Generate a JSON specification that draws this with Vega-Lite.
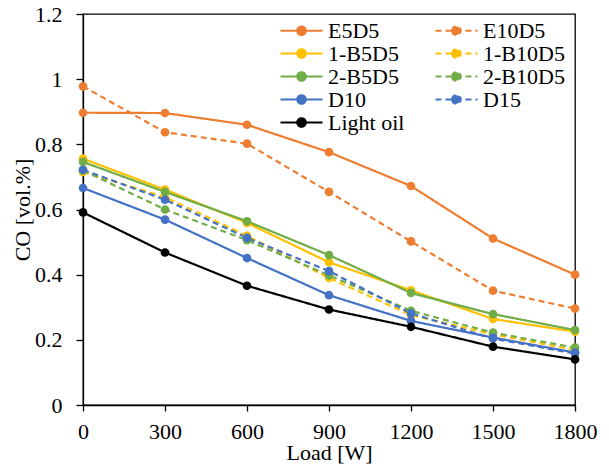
{
  "$schema": "https://vega.github.io/schema/vega-lite/v6.json",
  "width": 492,
  "height": 391,
  "autosize": {"type": "none"},
  "padding": {"left": 83, "top": 14, "right": 34, "bottom": 61},
  "background": "white",
  "config": {
    "view": {"stroke": "black", "strokeWidth": 1.3},
    "font": "Liberation Serif",
    "text": {"font": "Liberation Serif"},
    "legend": {"labelFont": "Liberation Serif", "titleFont": "Liberation Serif"},
    "axis": {"grid": false, "domainColor": "black", "tickColor": "black", "labelColor": "black", "titleColor": "black", "labelFont": "Liberation Serif", "titleFont": "Liberation Serif", "labelFontSize": 22, "titleFontSize": 22, "titleFontWeight": "normal", "domainWidth": 1.3, "tickWidth": 1.3}
  },
  "data": {"values": [
    {"load": 0, "co": 0.897, "series": "E5D5"},
    {"load": 300, "co": 0.896, "series": "E5D5"},
    {"load": 600, "co": 0.86, "series": "E5D5"},
    {"load": 900, "co": 0.776, "series": "E5D5"},
    {"load": 1200, "co": 0.672, "series": "E5D5"},
    {"load": 1500, "co": 0.511, "series": "E5D5"},
    {"load": 1800, "co": 0.4, "series": "E5D5"},
    {"load": 0, "co": 0.978, "series": "E10D5"},
    {"load": 300, "co": 0.837, "series": "E10D5"},
    {"load": 600, "co": 0.802, "series": "E10D5"},
    {"load": 900, "co": 0.654, "series": "E10D5"},
    {"load": 1200, "co": 0.502, "series": "E10D5"},
    {"load": 1500, "co": 0.351, "series": "E10D5"},
    {"load": 1800, "co": 0.296, "series": "E10D5"},
    {"load": 0, "co": 0.756, "series": "1-B5D5"},
    {"load": 300, "co": 0.661, "series": "1-B5D5"},
    {"load": 600, "co": 0.559, "series": "1-B5D5"},
    {"load": 900, "co": 0.438, "series": "1-B5D5"},
    {"load": 1200, "co": 0.352, "series": "1-B5D5"},
    {"load": 1500, "co": 0.264, "series": "1-B5D5"},
    {"load": 1800, "co": 0.225, "series": "1-B5D5"},
    {"load": 0, "co": 0.715, "series": "1-B10D5"},
    {"load": 300, "co": 0.638, "series": "1-B10D5"},
    {"load": 600, "co": 0.519, "series": "1-B10D5"},
    {"load": 900, "co": 0.39, "series": "1-B10D5"},
    {"load": 1200, "co": 0.276, "series": "1-B10D5"},
    {"load": 1500, "co": 0.217, "series": "1-B10D5"},
    {"load": 1800, "co": 0.169, "series": "1-B10D5"},
    {"load": 0, "co": 0.746, "series": "2-B5D5"},
    {"load": 300, "co": 0.654, "series": "2-B5D5"},
    {"load": 600, "co": 0.564, "series": "2-B5D5"},
    {"load": 900, "co": 0.46, "series": "2-B5D5"},
    {"load": 1200, "co": 0.344, "series": "2-B5D5"},
    {"load": 1500, "co": 0.279, "series": "2-B5D5"},
    {"load": 1800, "co": 0.23, "series": "2-B5D5"},
    {"load": 0, "co": 0.72, "series": "2-B10D5"},
    {"load": 300, "co": 0.6, "series": "2-B10D5"},
    {"load": 600, "co": 0.506, "series": "2-B10D5"},
    {"load": 900, "co": 0.398, "series": "2-B10D5"},
    {"load": 1200, "co": 0.289, "series": "2-B10D5"},
    {"load": 1500, "co": 0.222, "series": "2-B10D5"},
    {"load": 1800, "co": 0.176, "series": "2-B10D5"},
    {"load": 0, "co": 0.666, "series": "D10"},
    {"load": 300, "co": 0.569, "series": "D10"},
    {"load": 600, "co": 0.451, "series": "D10"},
    {"load": 900, "co": 0.337, "series": "D10"},
    {"load": 1200, "co": 0.258, "series": "D10"},
    {"load": 1500, "co": 0.207, "series": "D10"},
    {"load": 1800, "co": 0.161, "series": "D10"},
    {"load": 0, "co": 0.722, "series": "D15"},
    {"load": 300, "co": 0.63, "series": "D15"},
    {"load": 600, "co": 0.513, "series": "D15"},
    {"load": 900, "co": 0.411, "series": "D15"},
    {"load": 1200, "co": 0.281, "series": "D15"},
    {"load": 1500, "co": 0.204, "series": "D15"},
    {"load": 1800, "co": 0.158, "series": "D15"},
    {"load": 0, "co": 0.591, "series": "Light oil"},
    {"load": 300, "co": 0.468, "series": "Light oil"},
    {"load": 600, "co": 0.366, "series": "Light oil"},
    {"load": 900, "co": 0.293, "series": "Light oil"},
    {"load": 1200, "co": 0.24, "series": "Light oil"},
    {"load": 1500, "co": 0.179, "series": "Light oil"},
    {"load": 1800, "co": 0.14, "series": "Light oil"}
  ]},
  "mark": {"type": "line", "strokeWidth": 2.2, "point": {"filled": true, "size": 75, "opacity": 1}},
  "encoding": {
    "x": {"field": "load", "type": "quantitative", "scale": {"domain": [0, 1800], "nice": false}, "axis": {"values": [0, 300, 600, 900, 1200, 1500, 1800], "format": "d", "title": "Load [W]", "tickSize": 6, "labelPadding": 10, "titlePadding": 0, "labelFlush": false}},
    "y": {"field": "co", "type": "quantitative", "scale": {"domain": [0, 1.2], "nice": false}, "axis": {"values": [0, 0.2, 0.4, 0.6, 0.8, 1, 1.2], "format": "~g", "title": "CO [vol.%]", "tickSize": 7, "labelPadding": 14, "titlePadding": 0}},
    "color": {"field": "series", "type": "nominal", "sort": null,
      "scale": {"domain": ["E5D5", "1-B5D5", "2-B5D5", "D10", "Light oil", "E10D5", "1-B10D5", "2-B10D5", "D15"],
                "range": ["#ED7D31", "#FFC000", "#70AD47", "#4472C4", "#000000", "#ED7D31", "#FFC000", "#70AD47", "#4472C4"]},
      "legend": {"title": null, "orient": "none", "legendX": 207, "legendY": 5, "padding": 0, "columns": 2, "columnPadding": 26, "rowPadding": -2,
        "symbolType": "M-2.1,0H2.1M-0.42,0A0.42,0.42,0,1,0,0.42,0A0.42,0.42,0,1,0,-0.42,0Z", "symbolSize": 400, "symbolStrokeWidth": 2.2, "labelOffset": 15,
        "labelFont": "Liberation Serif", "labelFontSize": 22, "labelColor": "black", "labelLimit": 200,
        "encode": {"symbols": {"update": {"fill": {"scale": "color", "field": "value"}, "opacity": {"value": 1}}}}}},
    "strokeDash": {"field": "series", "type": "nominal", "sort": null,
      "scale": {"domain": ["E5D5", "1-B5D5", "2-B5D5", "D10", "Light oil", "E10D5", "1-B10D5", "2-B10D5", "D15"],
                "range": [[1, 0], [1, 0], [1, 0], [1, 0], [1, 0], [6, 4], [6, 4], [6, 4], [6, 4]]},
      "legend": {"title": null}}
  }
}
